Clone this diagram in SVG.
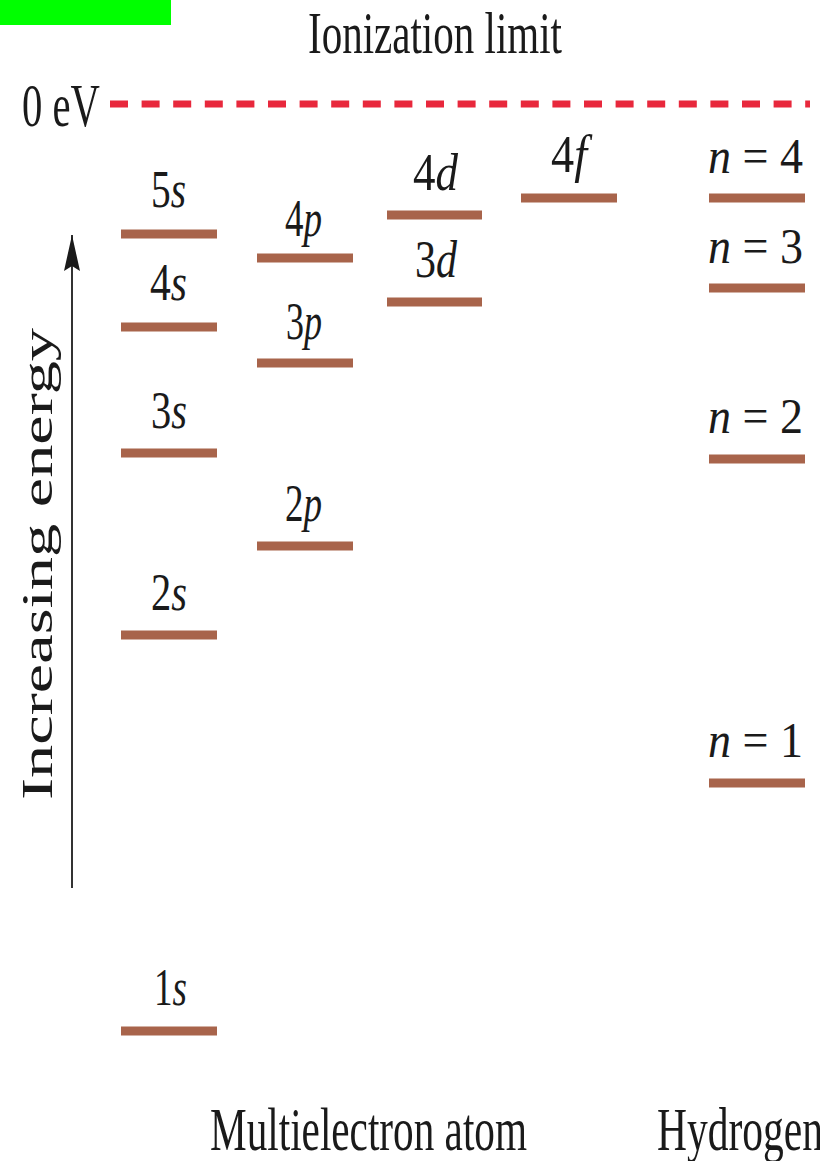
<svg xmlns="http://www.w3.org/2000/svg" width="820" height="1161" viewBox="0 0 820 1161">
<style>
.lv{stroke:#a8644b;stroke-width:9;}
.t{font-family:"Liberation Serif","Times New Roman",serif;fill:#1a1a1a;}
.lb{font-size:52px;}
.i{font-style:italic;}
</style>
<defs>
<marker id="ah" viewBox="0 0 36 16" refX="36" refY="8" markerWidth="36" markerHeight="16" markerUnits="userSpaceOnUse" orient="auto-start-reverse">
<path d="M36 8 L0 0 L5 8 L0 16 Z" fill="#1a1a1a"/>
</marker>
</defs>
<rect x="0" y="0" width="171" height="25" fill="#00ff00"/>
<g id="ionization">
<text class="t" x="308" y="53" font-size="60" textLength="254" lengthAdjust="spacingAndGlyphs">Ionization limit</text>
<text class="t" x="22" y="126" font-size="62" textLength="78" lengthAdjust="spacingAndGlyphs">0 eV</text>
<line x1="110" y1="104" x2="810" y2="104" stroke="#e8283c" stroke-width="7" stroke-dasharray="18 13.6"/>
</g>
<g id="axis">
<line x1="72" y1="235" x2="72" y2="888" stroke="#333" stroke-width="2" marker-start="url(#ah)"/>
<text class="t" transform="translate(52,800) rotate(-90)" x="0" y="0" font-size="44" textLength="472" lengthAdjust="spacingAndGlyphs">Increasing energy</text>
</g>
<g id="s-levels">
<line class="lv" x1="121" y1="234" x2="217" y2="234"/>
<line class="lv" x1="121" y1="327" x2="217" y2="327"/>
<line class="lv" x1="121" y1="453" x2="217" y2="453"/>
<line class="lv" x1="121" y1="635" x2="217" y2="635"/>
<line class="lv" x1="121" y1="1031" x2="217" y2="1031"/>
<text class="t lb" x="151" y="207" textLength="35" lengthAdjust="spacingAndGlyphs">5<tspan class="i">s</tspan></text>
<text class="t lb" x="150" y="300" textLength="37" lengthAdjust="spacingAndGlyphs">4<tspan class="i">s</tspan></text>
<text class="t lb" x="151" y="428" textLength="36" lengthAdjust="spacingAndGlyphs">3<tspan class="i">s</tspan></text>
<text class="t lb" x="151" y="610" textLength="36" lengthAdjust="spacingAndGlyphs">2<tspan class="i">s</tspan></text>
<text class="t lb" x="154" y="1005" textLength="33" lengthAdjust="spacingAndGlyphs">1<tspan class="i">s</tspan></text>
</g>
<g id="p-levels">
<line class="lv" x1="257" y1="258" x2="353" y2="258"/>
<line class="lv" x1="257" y1="363" x2="353" y2="363"/>
<line class="lv" x1="257" y1="546" x2="353" y2="546"/>
<text class="t lb" x="285" y="236" textLength="37" lengthAdjust="spacingAndGlyphs">4<tspan class="i">p</tspan></text>
<text class="t lb" x="286" y="339" textLength="36" lengthAdjust="spacingAndGlyphs">3<tspan class="i">p</tspan></text>
<text class="t lb" x="285" y="521" textLength="37" lengthAdjust="spacingAndGlyphs">2<tspan class="i">p</tspan></text>
</g>
<g id="d-levels">
<line class="lv" x1="387" y1="215" x2="482" y2="215"/>
<line class="lv" x1="387" y1="302" x2="482" y2="302"/>
<text class="t lb" x="413" y="190" textLength="45" lengthAdjust="spacingAndGlyphs">4<tspan class="i">d</tspan></text>
<text class="t lb" x="415" y="277" textLength="42" lengthAdjust="spacingAndGlyphs">3<tspan class="i">d</tspan></text>
</g>
<g id="f-levels">
<line class="lv" x1="521" y1="198" x2="617" y2="198"/>
<text class="t lb" x="551" y="172" textLength="36" lengthAdjust="spacingAndGlyphs">4<tspan class="i">f</tspan></text>
</g>
<g id="hydrogen-levels">
<line class="lv" x1="709" y1="198" x2="805" y2="198"/>
<line class="lv" x1="709" y1="288" x2="805" y2="288"/>
<line class="lv" x1="709" y1="459" x2="805" y2="459"/>
<line class="lv" x1="709" y1="783" x2="805" y2="783"/>
<text class="t" font-size="50" x="708" y="173" textLength="95" lengthAdjust="spacingAndGlyphs"><tspan class="i">n</tspan> = 4</text>
<text class="t" font-size="50" x="708" y="263" textLength="95" lengthAdjust="spacingAndGlyphs"><tspan class="i">n</tspan> = 3</text>
<text class="t" font-size="50" x="708" y="433" textLength="95" lengthAdjust="spacingAndGlyphs"><tspan class="i">n</tspan> = 2</text>
<text class="t" font-size="50" x="708" y="757" textLength="95" lengthAdjust="spacingAndGlyphs"><tspan class="i">n</tspan> = 1</text>
</g>
<g id="captions">
<text class="t" x="210" y="1150" font-size="62" textLength="317" lengthAdjust="spacingAndGlyphs">Multielectron atom</text>
<text class="t" x="657" y="1150" font-size="62" textLength="166" lengthAdjust="spacingAndGlyphs">Hydrogen</text>
</g>
</svg>
